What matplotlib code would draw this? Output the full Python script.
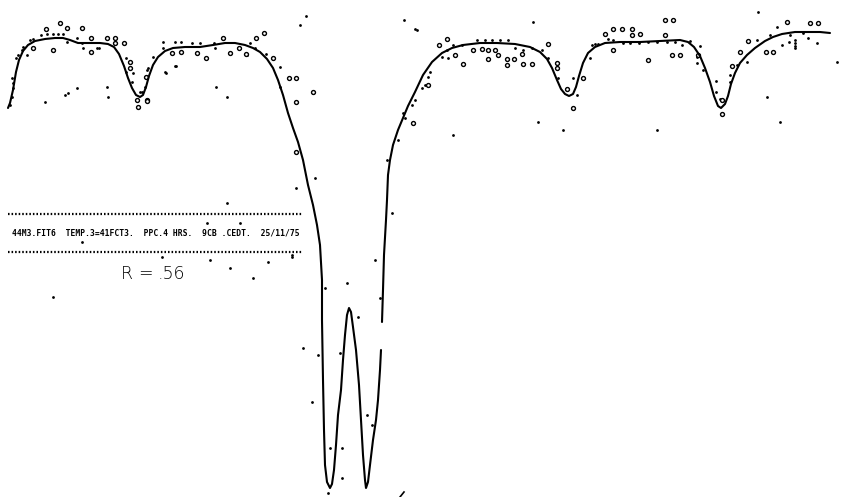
import numpy as np
import matplotlib
matplotlib.use("Agg")
import matplotlib.pyplot as plt

# Fitted transmission curve (channel, depth below baseline; larger = deeper)
fit_x = [8, 10, 13, 16, 19, 23, 28, 35, 45, 55, 63, 70, 78, 90, 100, 108, 114, 119, 124, 128,
         132, 136, 140, 143, 146, 149, 153, 158, 165, 173, 185, 200, 213, 225, 235, 245, 253,
         260, 267, 273, 278, 283, 288, 293, 298, 303, 308, 313, 317, 320, 322, 322, 323, 324,
         325, 327, 330, 332, 334, 336, 338, 341, 343, 345, 347, 349, 351, 353, 356, 359, 361,
         363, 365, 366, 368, 370, 373, 376, 378, 380, 381]
fit_y = [108, 103, 90, 72, 60, 51, 45, 41, 39, 38, 38, 40, 43, 43, 43, 44, 47, 54, 66, 78,
         88, 95, 97, 95, 87, 76, 65, 57, 51, 48, 47, 47, 45, 43, 43, 45, 48,
         52, 59, 68, 80, 95, 113, 128, 142, 160, 185, 205, 225, 245, 280, 320, 380, 430,
         465, 482, 488, 484, 470, 445, 415, 390, 360, 335, 315, 308, 312, 327, 350, 385, 420,
         455, 480, 488, 482, 465, 440, 420, 400, 370, 350]
fit2_x = [382, 383, 384, 386, 387, 388, 390, 393, 398, 403, 408, 415, 423, 432, 442, 452, 463,
          480, 497, 515, 530, 540, 547, 552, 557, 561, 565, 569, 573, 576, 579, 583, 588, 595,
          605, 620, 640, 660, 680, 688, 694, 700, 705, 710, 714, 718, 721, 725, 728, 731, 735,
          740, 747, 755, 765, 773, 782, 795, 810, 820, 830]
fit2_y = [322, 290, 255, 220, 200, 175, 160, 145, 130, 118, 106, 92, 75, 62, 53, 48, 45,
          43, 43, 44, 47, 52, 59, 68, 80, 89, 94, 96, 94, 87, 76, 63, 53, 47,
          43, 42, 42, 41, 40, 42, 47, 56, 68, 82, 96, 106, 108, 104, 96, 84, 73,
          63, 55, 48, 41, 37, 34, 32, 32, 32, 33]

# Measured counts printed as dots
dot_x = [10, 12, 13, 13, 12, 16, 18, 22, 23, 27, 30, 33, 41, 47, 53, 58, 63, 67, 77, 82, 83, 97, 99,
         126, 126, 132, 133, 142, 147,
         140, 145, 145, 148, 153, 163, 163, 175, 181, 192, 200, 215, 214, 240, 247, 250, 255, 266,
         280, 280, 176, 166,
         403, 412, 415, 422, 425, 428, 430, 442, 447, 448, 453, 462, 477, 485, 492, 500, 508, 515,
         523, 532, 542, 548, 558, 567, 573, 577,
         592, 595, 598, 608, 613, 623, 630, 639, 648, 657, 667, 675, 682, 690, 700, 697, 697, 703,
         716, 716, 720, 730, 730, 737, 747, 748, 757, 770, 777, 790, 803, 817, 782, 789, 808,
         795, 795, 795, 795,
         # scattered counts away from the fit
         45, 65, 68, 77, 107, 108, 165, 175, 216, 227,
         306, 300, 404, 415, 417, 533, 758, 837, 767, 780, 657, 563, 538, 453, 590,
         313, 296, 315, 405, 398, 387,
         227, 207, 240, 82, 162, 210, 230, 268, 292, 253, 53,
         292, 347, 325, 303, 312, 318, 340, 330, 342, 342, 328, 358, 367, 372, 375, 380, 392]
dot_y = [105, 97, 88, 83, 78, 58, 55, 50, 47, 55, 40, 39, 35, 34, 34, 34, 34, 42, 38, 43, 48, 48, 48,
         58, 72, 82, 73, 92, 70,
         92, 87, 77, 68, 57, 48, 42, 42, 42, 43, 43, 48, 43, 48, 55, 43, 48, 54,
         67, 87, 66, 73,
         113, 105, 100, 88, 85, 77, 72, 57, 50, 58, 45, 45, 40, 40, 40, 40, 40, 48,
         50, 48, 50, 58, 78, 88, 78, 95,
         45, 44, 44, 39, 40, 43, 43, 43, 42, 42, 42, 42, 45, 41, 46, 57, 63, 70,
         81, 92, 99, 82, 75, 65, 62, 42, 40, 35, 27, 35, 33, 43, 45, 42, 38,
         40, 43, 46, 48,
         102, 95, 93, 88, 87, 97, 72, 66, 87, 97,
         16, 25, 20, 29, 30, 22, 12, 62, 97, 122, 130, 130, 122, 135, 58,
         93, 188, 178, 118, 140, 160,
         203, 223, 223, 242, 257, 260, 268, 262, 257, 278, 297,
         255, 283, 288, 348, 402, 355, 353, 448, 448, 478, 493, 317, 415, 425, 260, 298, 213]

# Counts printed as open rings
ring_x = [33, 46, 60, 67, 82, 53, 91, 91, 107, 115, 115, 124, 130, 130, 137, 147, 138, 146,
          147, 172, 181, 197, 206, 223, 230, 239, 246, 256, 264, 273, 289, 296,
          428, 439, 447, 455, 463, 473, 482, 488, 495, 488, 498, 507, 514, 507, 523, 532, 522,
          548, 557, 557, 567, 583, 573,
          605, 613, 622, 632, 632, 640, 665, 673, 665, 672, 680, 613, 648, 698, 722, 722, 732,
          740, 748, 766, 773, 787, 810, 818,
          296, 313, 296, 413]
ring_y = [48, 29, 23, 28, 28, 50, 38, 52, 38, 38, 43, 43, 62, 68, 100, 100, 107, 77,
          101, 53, 52, 53, 58, 38, 53, 48, 54, 38, 33, 58, 78, 102,
          85, 45, 39, 55, 64, 50, 49, 50, 50, 59, 55, 59, 59, 65, 64, 64, 54,
          44, 63, 68, 89, 78, 108,
          34, 29, 29, 29, 35, 34, 20, 20, 35, 55, 55, 50, 60, 55, 114, 100, 66,
          52, 41, 52, 52, 22, 23, 23,
          78, 92, 152, 123]

header_text = "44M3.FIT6  TEMP.3=41FCT3.  PPC.4 HRS.  9CB .CEDT.  25/11/75"
r_parts = ["R", "=", ".56"]

fig = plt.figure(figsize=(8.41, 4.97), dpi=100)
ax = fig.add_axes([0, 0, 1, 1])
ax.set_xlim(0, 841)
ax.set_ylim(497, 0)
ax.axis("off")

ax.plot(fit_x, fit_y, color="black", lw=1.5, solid_capstyle="round")
ax.plot(fit2_x, fit2_y, color="black", lw=1.5, solid_capstyle="round")

ax.scatter(dot_x, dot_y, s=4, color="black", marker="o", linewidths=0)
ax.scatter(ring_x, ring_y, s=8, facecolors="white", edgecolors="black",
           marker="o", linewidths=1.0)

# printout banner
for yb in (214, 252):
    ax.plot([8, 303], [yb, yb], color="black", lw=1.6, linestyle=(0, (0.7, 0.9)))
ax.text(12, 233, header_text, fontsize=5.8, family="DejaVu Sans Mono",
        fontweight="bold", va="center", ha="left", color="black")

# fit quality label
for xp, part in zip((121, 138, 158), r_parts):
    ax.text(xp, 279, part, fontsize=12.5, family="DejaVu Sans", fontweight="light",
            va="baseline", ha="left", color="black")

# small slash mark below the spectrum
ax.plot([400, 404], [497, 492], color="black", lw=1.2)

fig.savefig("out.png", dpi=100, facecolor="white")
